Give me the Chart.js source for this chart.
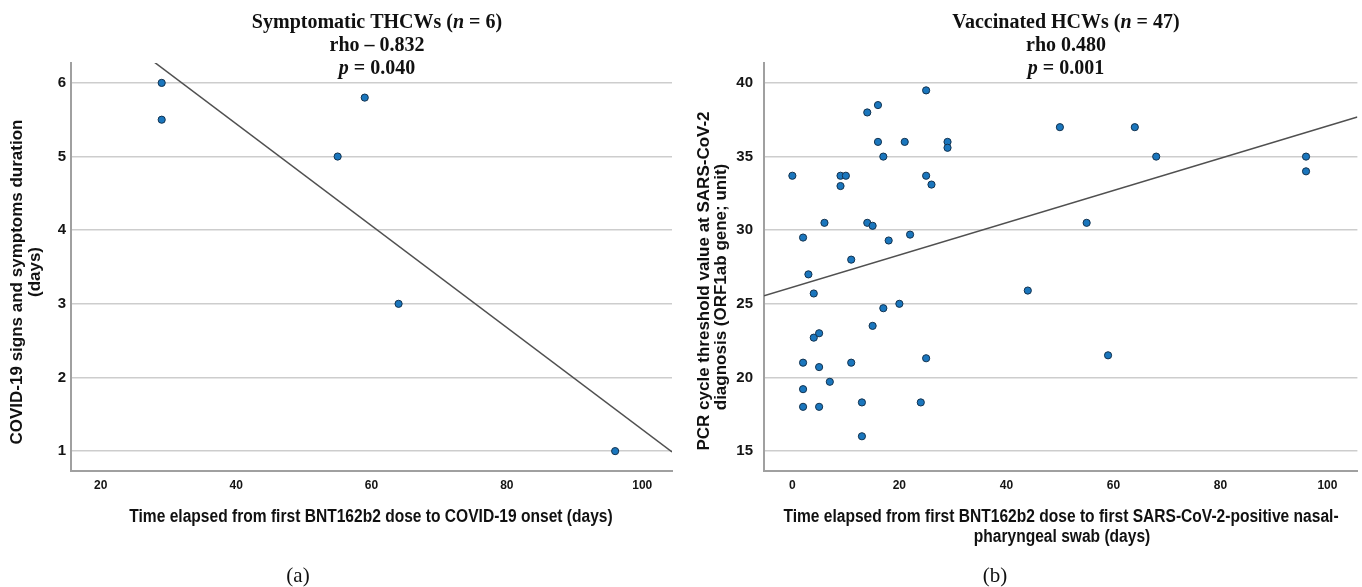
<!DOCTYPE html>
<html>
<head>
<meta charset="utf-8">
<script src="https://cdn.jsdelivr.net/npm/chart.js@4.4.1/dist/chart.umd.min.js"></script>
<style>
html,body{margin:0;padding:0;background:#ffffff;}
#wrap{position:relative;width:1362px;height:587px;overflow:hidden;background:#fff;}
#ca{position:absolute;left:0;top:0;}
#cb{position:absolute;left:680px;top:0;}
</style>
</head>
<body>
<div id="wrap">
  <canvas id="ca" width="680" height="587"></canvas>
  <canvas id="cb" width="682" height="587"></canvas>
</div>
<script>
// ---------- DATA ----------
// Panel (a): symptomatic THCWs
const daysA = [29, 29, 55, 59, 64, 96];
const durationA = [6, 5.5, 5, 5.8, 3, 1];
const xTicksA = [20, 40, 60, 80, 100];
const yTicksA = [1, 2, 3, 4, 5, 6];

// Panel (b): vaccinated HCWs
const daysB = [0, 9, 10, 9, 14, 16, 16, 17, 21, 25, 25, 26, 29, 29, 50, 64, 68, 96, 96,
               2, 6, 14, 15, 22, 18, 11, 3, 4, 44, 17, 20, 15, 4, 5, 2, 5, 11, 25, 59,
               7, 2, 2, 5, 13, 24, 13, 55];
const ctB = [33.7, 33.7, 33.7, 33.0, 38.0, 38.5, 36.0, 35.0, 36.0, 39.5, 33.7, 33.1, 36.0, 35.6, 37.0, 37.0, 35.0, 35.0, 34.0,
             29.5, 30.5, 30.5, 30.3, 29.7, 29.3, 28.0, 27.0, 25.7, 25.9, 24.7, 25.0, 23.5, 22.7, 23.0, 21.0, 20.7, 21.0, 21.3, 21.5,
             19.7, 19.2, 18.0, 18.0, 18.3, 18.3, 16.0, 30.5];
const xTicksB = [0, 20, 40, 60, 80, 100];
const yTicksB = [15, 20, 25, 30, 35, 40];

// Axis ranges
const xRangeA = [15.6, 104.4], yRangeA = [0.73, 6.27];
const xRangeB = [-5.3, 105.6], yRangeB = [13.64, 41.36];

// Texts
const titleA = [['Symptomatic THCWs (', 'n', ' = 6)'], ['rho \u2013 0.832'], ['p', ' = 0.040']];
const titleB = [['Vaccinated HCWs (', 'n', ' = 47)'], ['rho 0.480'], ['p', ' = 0.001']];
const yTitleA = ['COVID-19 signs and symptoms duration', '(days)'];
const xTitleA = ['Time elapsed from first BNT162b2 dose to COVID-19 onset (days)'];
const yTitleB = ['PCR cycle threshold value at SARS-CoV-2', 'diagnosis (ORF1ab gene; unit)'];
const xTitleB = ['Time elapsed from first BNT162b2 dose to first SARS-CoV-2-positive nasal-', 'pharyngeal swab (days)'];
const panelA = '(a)', panelB = '(b)';

// ---------- HELPERS ----------
function ols(xs, ys) {
  const n = xs.length;
  const mx = xs.reduce((a, b) => a + b, 0) / n;
  const my = ys.reduce((a, b) => a + b, 0) / n;
  let sxy = 0, sxx = 0;
  for (let i = 0; i < n; i++) { sxy += (xs[i] - mx) * (ys[i] - my); sxx += (xs[i] - mx) ** 2; }
  const b = sxy / sxx;
  return { a: my - b * mx, b };
}
function fitLine(xs, ys, range) {
  const f = ols(xs, ys);
  return range.map(x => ({ x, y: f.a + f.b * x }));
}

const SERIF_B = "bold 20px 'Liberation Serif', 'Times New Roman', serif";
const SERIF_BI = "italic bold 20px 'Liberation Serif', 'Times New Roman', serif";
const SANS_B = "bold 17px 'Liberation Sans', Arial, sans-serif";
const SANS_B_X = "bold 18px 'Liberation Sans', Arial, sans-serif";
const PANEL_F = "21px 'Liberation Serif', 'Times New Roman', serif";
const NARROW_SX = 0.865;

function titleItems(lines, cx) {
  const ys = [23, 46, 69];
  return lines.map((ln, i) => {
    let segs;
    if (ln.length === 3) segs = [{ t: ln[0], f: SERIF_B }, { t: ln[1], f: SERIF_BI }, { t: ln[2], f: SERIF_B }];
    else if (ln.length === 2) segs = [{ t: ln[0], f: SERIF_BI }, { t: ln[1], f: SERIF_B }];
    else segs = [{ t: ln[0], f: SERIF_B }];
    return { x: cx, y: ys[i], segs };
  });
}

const textPlugin = {
  id: 'texts',
  afterDraw(chart, args, opts) {
    const ctx = chart.ctx;
    for (const it of (opts.items || [])) {
      ctx.save();
      ctx.translate(it.x, it.y);
      if (it.rot) ctx.rotate(it.rot);
      if (it.sx) ctx.scale(it.sx, 1);
      ctx.textBaseline = 'middle';
      ctx.textAlign = 'left';
      ctx.fillStyle = '#111111';
      let total = 0;
      for (const s of it.segs) { ctx.font = s.f; total += ctx.measureText(s.t).width; }
      let cx = -total / 2;
      for (const s of it.segs) { ctx.font = s.f; ctx.fillText(s.t, cx, 0); cx += ctx.measureText(s.t).width; }
      ctx.restore();
    }
  }
};

function makeChart(canvas, cfg) {
  const pts = cfg.xs.map((x, i) => ({ x, y: cfg.ys[i] }));
  return new Chart(canvas, {
    type: 'scatter',
    data: {
      datasets: [
        {
          type: 'line', data: fitLine(cfg.xs, cfg.ys, cfg.xRange),
          borderColor: '#505050', borderWidth: 1.5, pointRadius: 0, fill: false, order: 2
        },
        {
          data: pts, backgroundColor: '#1a76bd', borderColor: '#12324f', borderWidth: 1,
          pointRadius: 3.6, pointHoverRadius: 3.6, order: 1
        }
      ]
    },
    options: {
      responsive: false, animation: false, devicePixelRatio: 1,
      layout: { padding: { left: 0, right: cfg.padRight, top: 63, bottom: 0 } },
      plugins: { legend: { display: false }, tooltip: { enabled: false }, texts: { items: cfg.items } },
      scales: {
        x: {
          type: 'linear', min: cfg.xRange[0], max: cfg.xRange[1],
          afterBuildTicks: s => { s.ticks = cfg.xTicks.map(v => ({ value: v })); },
          afterFit: s => { s.height = 116; },
          grid: { display: false, drawTicks: false },
          border: { display: true, color: '#a0a0a0', width: 2 },
          ticks: { padding: 7, color: '#151515', font: { family: "'Liberation Sans', Arial, sans-serif", size: 12, weight: 'bold' } }
        },
        y: {
          type: 'linear', min: cfg.yRange[0], max: cfg.yRange[1],
          afterBuildTicks: s => { s.ticks = cfg.yTicks.map(v => ({ value: v })); },
          afterFit: s => { s.width = cfg.yWidth; },
          grid: { color: '#cdcdcd', lineWidth: 1.6, drawTicks: false },
          border: { display: true, color: '#a0a0a0', width: 2 },
          ticks: { padding: cfg.yPad, color: '#151515', font: { family: "'Liberation Sans', Arial, sans-serif", size: 15, weight: 'bold' } }
        }
      }
    },
    plugins: [textPlugin]
  });
}

// ---------- PANEL A ----------
const itemsA = titleItems(titleA, 377).concat([
  { x: 17, y: 282, rot: -Math.PI / 2, segs: [{ t: yTitleA[0], f: SANS_B }] },
  { x: 35, y: 272, rot: -Math.PI / 2, segs: [{ t: yTitleA[1], f: SANS_B }] },
  { x: 371, y: 517, sx: NARROW_SX, segs: [{ t: xTitleA[0], f: SANS_B_X }] },
  { x: 298, y: 576, segs: [{ t: panelA, f: PANEL_F }] }
]);
makeChart(document.getElementById('ca'), {
  xs: daysA, ys: durationA, xRange: xRangeA, yRange: yRangeA, xTicks: xTicksA, yTicks: yTicksA,
  yWidth: 71, yPad: 5, padRight: 8, items: itemsA
});

// ---------- PANEL B ----------
const itemsB = titleItems(titleB, 386).concat([
  { x: 24, y: 281, rot: -Math.PI / 2, segs: [{ t: yTitleB[0], f: SANS_B }] },
  { x: 41, y: 287, rot: -Math.PI / 2, segs: [{ t: yTitleB[1], f: SANS_B }] },
  { x: 381, y: 517, sx: NARROW_SX, segs: [{ t: xTitleB[0], f: SANS_B_X }] },
  { x: 382, y: 537, sx: NARROW_SX, segs: [{ t: xTitleB[1], f: SANS_B_X }] },
  { x: 315, y: 576, segs: [{ t: panelB, f: PANEL_F }] }
]);
makeChart(document.getElementById('cb'), {
  xs: daysB, ys: ctB, xRange: xRangeB, yRange: yRangeB, xTicks: xTicksB, yTicks: yTicksB,
  yWidth: 84, yPad: 11, padRight: 2, items: itemsB
});
</script>
</body>
</html>
